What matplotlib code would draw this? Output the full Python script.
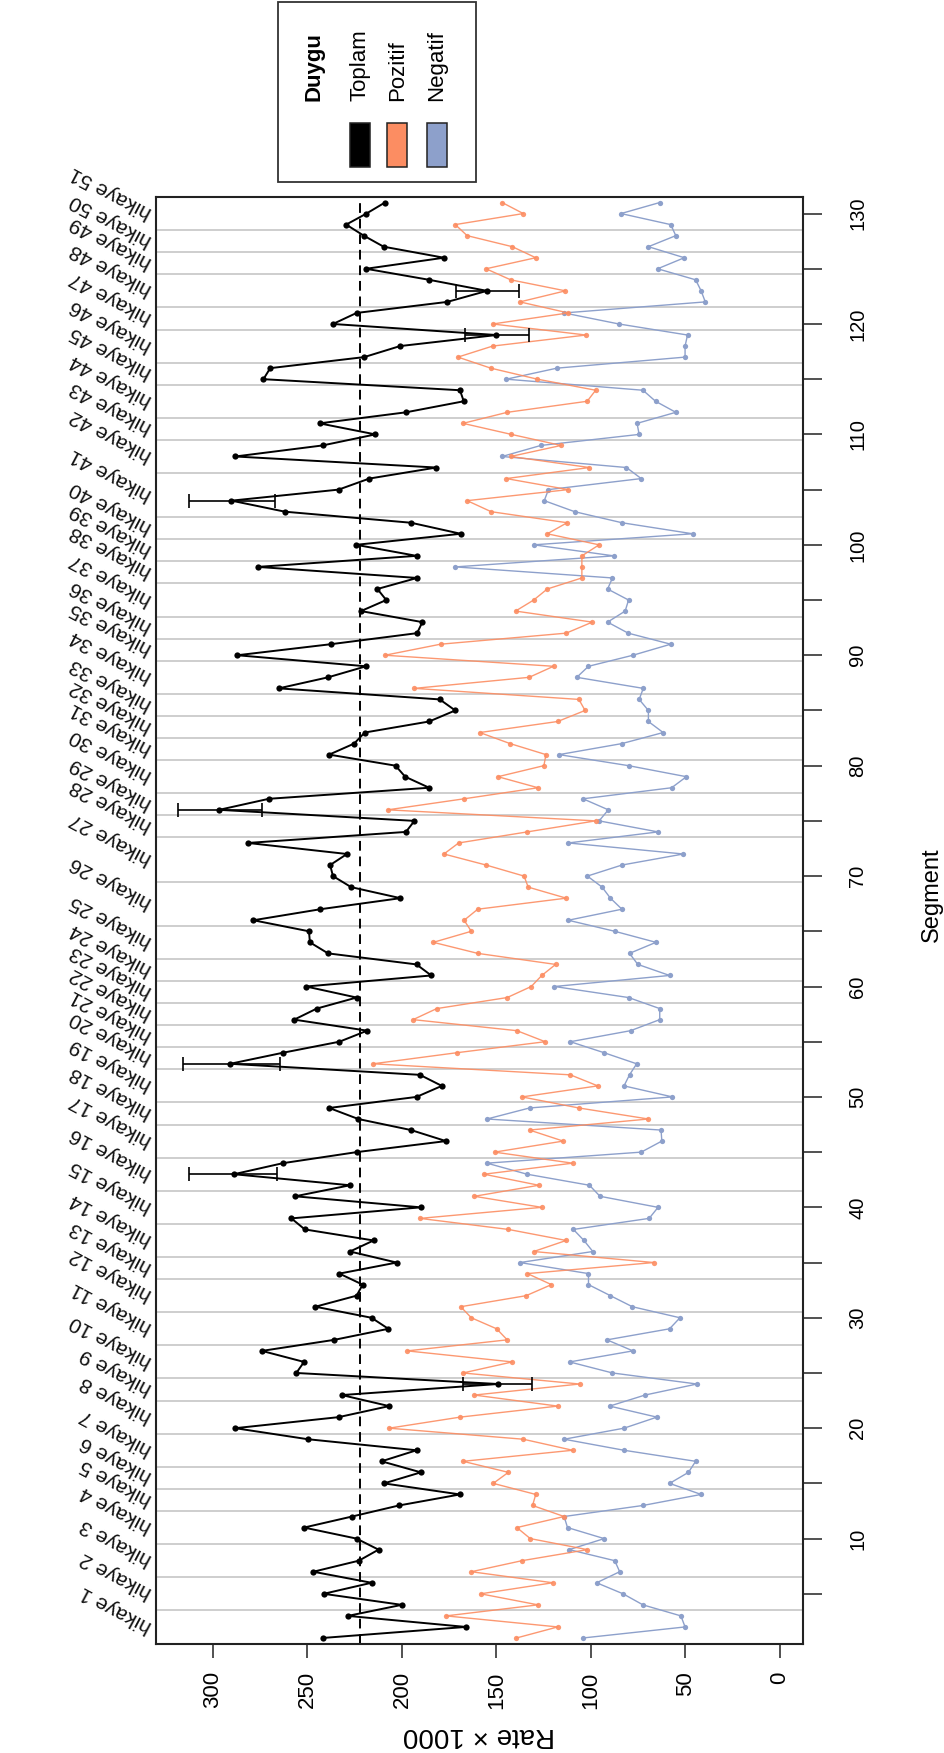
import matplotlib
matplotlib.use("Agg")
import matplotlib.pyplot as plt
import matplotlib.transforms as mtransforms
from matplotlib import font_manager
from matplotlib.patches import Rectangle
from matplotlib.ticker import FixedLocator, FuncFormatter
import numpy as np

# ---------------- data (segments 1..131) ----------------
toplam = [242, 166.2, 228.6, 200.1, 241.4, 216.1, 246.9, 222.8, 212.4, 224,
          251.8, 226.4, 201.6, 169.3, 209.5, 190, 210.8, 192.3, 249.8, 288.2,
          233.5, 206.8, 231.8, 149.2, 255.9, 251.8, 274.1, 235.8, 207.2, 216.1,
          245.8, 224, 220.8, 233.1, 202.8, 227.5, 215, 251.4, 258.5, 190,
          256.5, 227.5, 288.9, 263, 224, 176.7, 195.2, 223.1, 238.5, 192.3,
          178.9, 190.5, 290.9, 263, 233.1, 218.4, 257, 245.1, 224, 250.7,
          184.5, 192.3, 239.1, 248.7, 249.2, 278.6, 243.1, 200.8, 226.9, 236.5,
          238, 229.1, 281.5, 197.9, 193.4, 296.7, 270.4, 185.6, 198.3, 203.4,
          238.5, 225.3, 219.7, 185.6, 171.8, 180, 265.2, 239.1, 219, 287.1,
          237.6, 192, 189.2, 221.7, 208.3, 213, 192, 276.4, 192.3, 224.2,
          168.9, 195.2, 261.9, 290.2, 233.5, 217.3, 181.8, 288.2, 242, 214.1,
          243.6, 197.9, 167.3, 169.3, 273.3, 269.7, 220, 201, 150, 236.5,
          224, 176, 155, 185.6, 219, 177.8, 209.7, 220.2, 229.5, 218.8, 209]

pozitif = [139.4, 117.6, 176.7, 128, 158.4, 120.2, 163.3, 136.5, 101.9, 132.1,
           139.2, 114.2, 130.9, 129.2, 151.7, 143.7, 167.7, 109.7, 135.8, 206.8,
           169.3, 117.6, 161.7, 106, 167.7, 141.6, 197.2, 144.3, 149.9, 163.3,
           168.9, 134.3, 120.9, 133.6, 66.7, 130.3, 113.1, 143.7, 190.5, 126,
           161.7, 127.6, 156.6, 109.7, 151, 114.7, 132.5, 69.6, 106.4, 136.5,
           96.4, 110.9, 215.3, 171.1, 124.2, 139.2, 194.1, 181.6, 144.3, 131.6,
           126, 118.7, 159.9, 183.4, 163.3, 167.1, 159.9, 113.1, 133.2, 135.4,
           155.5, 177.8, 170, 133.6, 97.5, 207.5, 167.1, 128, 149.2, 124.9,
           123.8, 142.8, 158.8, 117.6, 103.1, 106.4, 193.4, 132.7, 119.8, 209,
           179.6, 113.1, 99.3, 139.9, 130.3, 123.1, 104.8, 104.8, 104.8, 95.7,
           123.1, 112.6, 152.8, 165.5, 112, 144.8, 100.8, 142.5, 115.8, 142.1,
           167.7, 144.3, 102, 97.5, 128.3, 153, 170.4, 152, 102.6, 152,
           112, 137.6, 113.5, 142.5, 155.5, 129.2, 141.6, 165.5, 171.8, 135.8, 147]

negatif = [104.2, 50.2, 52.4, 72.5, 83, 97, 84.8, 87.4, 111.5, 93,
           112.4, 114.2, 72.5, 41.7, 58.4, 48.4, 44.6, 82.5, 114.2, 82.5,
           65.1, 90.1, 71.4, 43.9, 88.6, 111.3, 77.8, 91.5, 58.4, 52.9,
           78.1, 89.7, 101.3, 101.3, 137.6, 99, 103.7, 109.3, 69.2, 64.5,
           95.2, 100.8, 133.8, 155, 73.4, 62.5, 62.9, 155, 132.5, 56.9,
           82.5, 79.6, 75.8, 93, 110.9, 79, 63.6, 63.6, 80.1, 119.3,
           58.4, 75.2, 79.6, 65.6, 87.4, 112, 83.6, 89.7, 94.1, 101.9,
           83.6, 51.1, 112, 64.5, 95.7, 90.8, 104.2, 57.3, 49.5, 80.1,
           116.9, 83.6, 61.8, 69.6, 69.6, 74.5, 72.3, 107.5, 101.3, 77.8,
           57.8, 80.3, 91.2, 81.9, 80.1, 91.2, 88.6, 171.8, 87.9, 130.3,
           46.2, 83.6, 108.6, 124.7, 122.5, 73.4, 81.2, 147, 126.5, 74.5,
           75.6, 55.1, 65.8, 72.5, 144.8, 118, 50.2, 50.2, 48.9, 85.2,
           114.2, 39.5, 41.7, 44.6, 64.7, 50.6, 69.6, 55.1, 57.8, 84.1, 63.6]

# error bars on the total series
err_seg = [24, 43, 53, 76, 104, 119, 123]
err_lo = [131.4, 265.9, 264.3, 274.0, 267.0, 133.0, 138.0]
err_hi = [167.7, 312.7, 315.6, 318.3, 312.7, 166.6, 171.5]

mean_total = 222.4

# story boundaries (between segments)
boundaries = [3.5, 6.5, 9.5, 12.5, 14.5, 16.5, 19.5, 22.5, 24.5, 27.5,
              30.5, 33.5, 35.5, 38.5, 41.5, 44.5, 47.5, 49.5, 52.5, 54.5,
              56.5, 58.5, 60.5, 62.5, 65.5, 69.5, 73.5, 75.5, 77.5, 80.5,
              82.5, 84.5, 86.5, 89.5, 91.5, 93.5, 96.5, 98.5, 100.5, 102.5,
              106.5, 109.5, 111.5, 114.5, 116.5, 119.5, 121.5, 124.5, 126.5, 128.5]
story_labels = [f"hikaye {i}" for i in range(1, 52)]

rate_ticks = [0, 50, 100, 150, 200, 250, 300]
seg_ticks = list(range(5, 131, 5))

legend_title = "Duygu"
legend_names = ["Toplam", "Pozitif", "Negatif"]
BLACK = "#000000"
ORANGE = "#FC8D62"
BLUE = "#8DA0CB"
legend_colors = [BLACK, ORANGE, BLUE]

# ---------------- fonts ----------------
def pick(names):
    for n in names:
        try:
            font_manager.findfont(font_manager.FontProperties(family=n),
                                  fallback_to_default=False)
            return n
        except Exception:
            continue
    return None

REG = pick(["Liberation Sans", "Arimo", "DejaVu Sans"]) or "DejaVu Sans"
NARROW = pick(["Liberation Sans Narrow", "DejaVu Sans Condensed"])
HAVE_NARROW = NARROW is not None
if not HAVE_NARROW:
    NARROW = REG
plt.rcParams["font.family"] = [REG, "DejaVu Sans"]

# ---------------- figure ----------------
W, H = 945, 1753
fig = plt.figure(figsize=(W / 100, H / 100), dpi=100)


def fx(x):
    return x / W


def fy(y):
    return 1 - y / H


L, R, T, B = 155.5, 803.0, 197.0, 1643.5
ax = fig.add_axes([fx(L), fy(B), (R - L) / W, (B - T) / H])

seg = np.arange(1, len(toplam) + 1)

for b in boundaries:
    ax.axhline(b, color="#c6c6c6", lw=1.2, zorder=1)
ax.axvline(mean_total, color="black", lw=1.4, ls=(0, (5, 3)), zorder=2)

ax.plot(negatif, seg, "-o", color=BLUE, ms=3.8, mew=0, lw=1.0, zorder=3)
ax.plot(pozitif, seg, "-o", color=ORANGE, ms=3.8, mew=0, lw=1.0, alpha=0.9, zorder=3)

tot_err = [toplam[s - 1] for s in err_seg]
xerr = [[t - lo for t, lo in zip(tot_err, err_lo)],
        [hi - t for t, hi in zip(tot_err, err_hi)]]
ax.errorbar(tot_err, err_seg, xerr=xerr, fmt="none", ecolor="black",
            elinewidth=1.2, capsize=5, capthick=1.2, zorder=4)
ax.plot(toplam, seg, "-o", color="black", ms=4.5, mew=0, lw=1.4, zorder=5)

ax.set_xlim(330.4, -12.2)
ax.set_ylim(0.5, 131.5)

for sp in ax.spines.values():
    sp.set_linewidth(1.5)
    sp.set_color("#222222")

ax.set_xticks(rate_ticks)
ax.set_xticklabels([str(v) for v in rate_ticks])
ax.tick_params(axis="x", bottom=True, top=False, length=10, width=1.1,
               pad=10, labelsize=(18 if HAVE_NARROW else 16), labelrotation=90,
               color="#222222")
for lbl in ax.get_xticklabels():
    lbl.set_family([NARROW, "DejaVu Sans"])

ax.yaxis.tick_right()
ax.yaxis.set_major_locator(FixedLocator(seg_ticks))
ax.yaxis.set_major_formatter(FuncFormatter(
    lambda v, p: f"{int(round(v))}" if int(round(v)) % 10 == 0 else ""))
ax.tick_params(axis="y", right=True, left=False, length=13.7, width=1.1,
               pad=19, labelsize=14.5, labelrotation=90, color="#222222")
for lbl in ax.get_yticklabels():
    lbl.set_family([NARROW, "DejaVu Sans"])
    lbl.set_va("center")
    lbl.set_ha("left")

# story labels along the left edge
edges = [0.5] + boundaries + [131.5]
mids = [(a + b) / 2 for a, b in zip(edges[:-1], edges[1:])]
trans = mtransforms.blended_transform_factory(ax.transAxes, ax.transData)
for lab, m in zip(story_labels, mids):
    ax.text(-0.008, m, lab, transform=trans, rotation=152, rotation_mode="anchor",
            ha="left", va="center", fontsize=15, clip_on=False, color="#111111")

# axis titles
fig.text(fx(932), fy(895), "Segment", rotation=90, ha="center", va="center",
         fontsize=17, family=[NARROW, "DejaVu Sans"])
fig.text(fx(479), fy(1735), "Rate × 1000", rotation=180, ha="center", va="center",
         fontsize=20)

# legend (drawn in figure pixel positions)
fig.add_artist(Rectangle((fx(278), fy(182)), 198 / W, 180 / H,
                         transform=fig.transFigure, facecolor="white",
                         edgecolor="#333333", lw=1.3))
fig.text(fx(314), fy(101), legend_title, rotation=90, ha="center", va="bottom",
         fontsize=16, weight="bold", family=[NARROW, "DejaVu Sans"])
for xc, name, col in zip([360, 397.5, 436.5], legend_names, legend_colors):
    fig.text(fx(xc), fy(101), name, rotation=90, ha="center", va="bottom",
             fontsize=16, family=[NARROW, "DejaVu Sans"])
    fig.add_artist(Rectangle((fx(xc - 10), fy(167)), 20 / W, 44 / H,
                             transform=fig.transFigure, facecolor=col,
                             edgecolor="#222222", lw=1.1))

fig.savefig("out.png", dpi=100)
